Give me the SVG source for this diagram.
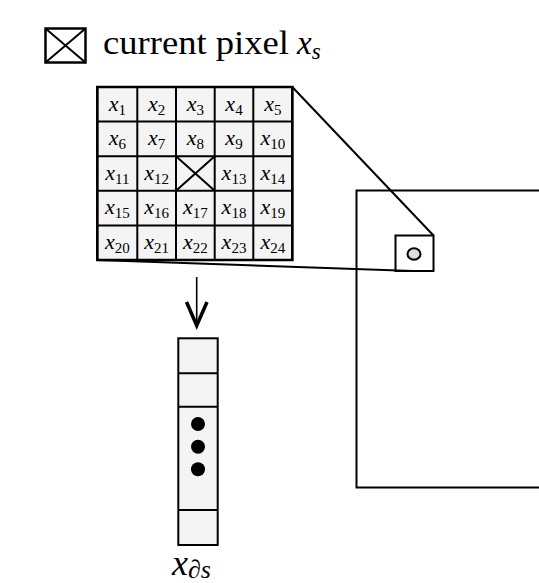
<svg xmlns="http://www.w3.org/2000/svg" width="539" height="583" viewBox="0 0 539 583">
  <style>
    .ln { stroke: #000; stroke-width: 2; fill: none; }
    .cell { fill: #f4f4f4; stroke: #000; stroke-width: 2; }
    .lbl { font-family: "Liberation Serif", "DejaVu Serif", serif; font-style: italic; font-size: 22px; text-anchor: middle; fill: #000; }
    .sub { font-style: normal; font-size: 15px; }
    .rm { font-family: "Liberation Serif", "DejaVu Serif", serif; font-size: 33px; fill: #000; }
    .mi { font-family: "Liberation Serif", "DejaVu Serif", serif; font-style: italic; fill: #000; }
  </style>
  <rect width="539" height="583" fill="#fff"/>

  <!-- legend -->
  <g id="legend">
    <rect x="45.5" y="28.5" width="40" height="34" fill="#fff" stroke="#000" stroke-width="2.5"/>
    <path d="M45.5 28.5 L85.5 62.5 M85.5 28.5 L45.5 62.5" class="ln"/>
    <text x="103" y="54" class="rm" textLength="186" lengthAdjust="spacingAndGlyphs">current pixel</text>
    <text x="297" y="54" class="mi" font-size="33">x<tspan font-size="23" dy="5">s</tspan></text>
  </g>

  <!-- image frame -->
  <g id="image">
    <rect x="356.5" y="190.5" width="200" height="297" class="ln"/>
  </g>

  <!-- neighbourhood window in the image -->
  <g id="window">
    <rect x="395.5" y="235.5" width="38" height="35.5" fill="#fff" stroke="#000" stroke-width="2"/>
    <ellipse cx="414" cy="254" rx="6.5" ry="5.7" fill="#ddd" stroke="#000" stroke-width="2"/>
  </g>

  <!-- 5x5 neighbourhood grid -->
  <g id="grid">
    <rect x="97.3" y="87" width="195" height="173" class="cell"/>
    <path d="M137.3 87 V260 M176 87 V260 M214.7 87 V260 M253.3 87 V260 M97.3 121.6 H292.3 M97.3 156.2 H292.3 M97.3 190.8 H292.3 M97.3 225.4 H292.3" class="ln"/>
    <path d="M176 156.2 L214.7 190.8 M214.7 156.2 L176 190.8" class="ln"/>
    <rect x="97.3" y="87" width="195" height="173" fill="none" stroke="#000" stroke-width="2.5"/>
    <g class="lbl">
      <text x="117.3" y="110.5" class="lbl">x<tspan class="sub" dy="4">1</tspan></text>
      <text x="156.7" y="110.5" class="lbl">x<tspan class="sub" dy="4">2</tspan></text>
      <text x="195.3" y="110.5" class="lbl">x<tspan class="sub" dy="4">3</tspan></text>
      <text x="234" y="110.5" class="lbl">x<tspan class="sub" dy="4">4</tspan></text>
      <text x="272.8" y="110.5" class="lbl">x<tspan class="sub" dy="4">5</tspan></text>

      <text x="117.3" y="145" class="lbl">x<tspan class="sub" dy="4">6</tspan></text>
      <text x="156.7" y="145" class="lbl">x<tspan class="sub" dy="4">7</tspan></text>
      <text x="195.3" y="145" class="lbl">x<tspan class="sub" dy="4">8</tspan></text>
      <text x="234" y="145" class="lbl">x<tspan class="sub" dy="4">9</tspan></text>
      <text x="272.8" y="145" class="lbl">x<tspan class="sub" dy="4">10</tspan></text>

      <text x="117.3" y="179.5" class="lbl">x<tspan class="sub" dy="4">11</tspan></text>
      <text x="156.7" y="179.5" class="lbl">x<tspan class="sub" dy="4">12</tspan></text>
      <text x="234" y="179.5" class="lbl">x<tspan class="sub" dy="4">13</tspan></text>
      <text x="272.8" y="179.5" class="lbl">x<tspan class="sub" dy="4">14</tspan></text>

      <text x="117.3" y="214" class="lbl">x<tspan class="sub" dy="4">15</tspan></text>
      <text x="156.7" y="214" class="lbl">x<tspan class="sub" dy="4">16</tspan></text>
      <text x="195.3" y="214" class="lbl">x<tspan class="sub" dy="4">17</tspan></text>
      <text x="234" y="214" class="lbl">x<tspan class="sub" dy="4">18</tspan></text>
      <text x="272.8" y="214" class="lbl">x<tspan class="sub" dy="4">19</tspan></text>

      <text x="117.3" y="248.5" class="lbl">x<tspan class="sub" dy="4">20</tspan></text>
      <text x="156.7" y="248.5" class="lbl">x<tspan class="sub" dy="4">21</tspan></text>
      <text x="195.3" y="248.5" class="lbl">x<tspan class="sub" dy="4">22</tspan></text>
      <text x="234" y="248.5" class="lbl">x<tspan class="sub" dy="4">23</tspan></text>
      <text x="272.8" y="248.5" class="lbl">x<tspan class="sub" dy="4">24</tspan></text>
    </g>
  </g>

  <!-- neighbourhood vector -->
  <g id="vector">
    <rect x="178.3" y="338.3" width="39.4" height="206.7" class="cell"/>
    <path d="M178.3 373.3 H217.7 M178.3 406.7 H217.7 M178.3 510 H217.7" class="ln"/>
    <circle cx="198" cy="424" r="7"/>
    <circle cx="198" cy="446.7" r="7"/>
    <circle cx="198" cy="469.3" r="7"/>
    <text x="172" y="575" class="mi" font-size="36">x<tspan font-size="26" dy="3">∂s</tspan></text>
  </g>

  <!-- connectors -->
  <g id="connectors">
    <path d="M292.3 87 L433.5 235.5" class="ln"/>
    <path d="M97.3 260 L413 271" class="ln"/>
    <path d="M196.7 277 V325" stroke="#000" stroke-width="1.6"/>
    <path d="M186.5 302 L196.7 325.5 L207 302" fill="none" stroke="#000" stroke-width="3.5" stroke-linejoin="miter"/>
  </g>
</svg>
